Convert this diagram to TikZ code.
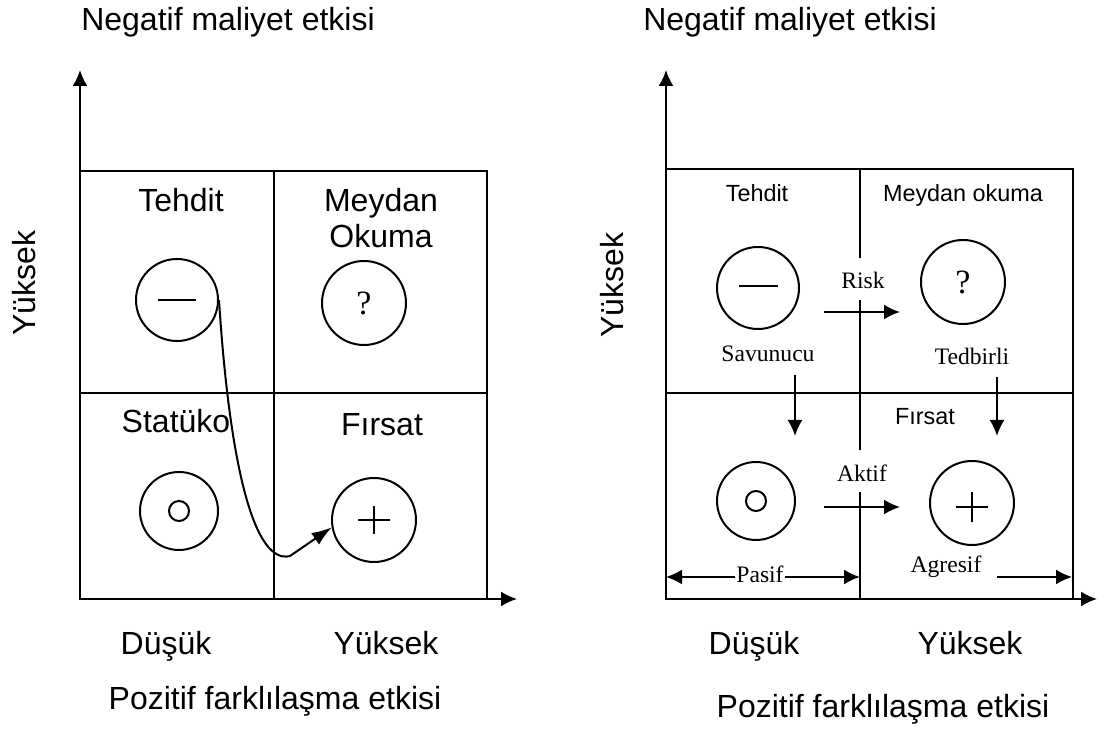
\documentclass[tikz,border=0pt]{standalone}
\usepackage{fontspec}
\setmainfont{Liberation Serif}
\setsansfont{Liberation Sans}
\usetikzlibrary{arrows.meta}
\tikzset{>={Latex[length=8pt,width=7.5pt]}}
\tikzset{
  big/.style={font=\sffamily\fontsize{16}{18}\selectfont},
  small/.style={font=\sffamily\fontsize{11.7}{14}\selectfont},
  lbl/.style={font=\fontsize{11.8}{14}\selectfont},
  ring/.style={draw, circle, minimum size=41pt, inner sep=0pt},
  qmark/.style={font=\fontsize{17}{19}\selectfont},
}

\begin{document}
\begin{tikzpicture}[x=0.5pt, y=-0.5pt, line width=1pt]
\useasboundingbox (0,0) rectangle (1105,731);

% ---- left matrix ----
\coordinate (oL) at (80,599);
\coordinate (yL) at (80,70);
\coordinate (xL) at (517,599);
\draw[->] (oL) -- (yL);
\draw[->] (oL) -- (xL);
\draw (80,171) rectangle (487,599);
\draw (274,171) -- (274,599);
\draw (80,393) -- (487,393);

\node[big, anchor=base] (titleL) at (228,31) {Negatif maliyet etkisi};
\node[big, anchor=base, rotate=90] (highL) at (35,283) {Yüksek};
\node[big, anchor=base] (lowxL) at (166,655) {Düşük};
\node[big, anchor=base] (highxL) at (386,655) {Yüksek};
\node[big, anchor=base] (xtitleL) at (275,710) {Pozitif farklılaşma etkisi};

\node[big, anchor=base] (tehL) at (181,212) {Tehdit};
\node[big, anchor=base] (meyL) at (381,212) {Meydan};
\node[big, anchor=base] (okuL) at (381,248) {Okuma};
\node[big, anchor=base] (staL) at (176,433) {Statüko};
\node[big, anchor=base] (firL) at (382,436) {Fırsat};

\node[ring] (minL) at (177,300) {};
\draw (minL) ++(-19,0) -- ++(38,0);
\node[ring, minimum size=42pt, qmark] (qL) at (364,303) {?};
\node[ring, minimum size=39pt] (zeroL) at (179,511) {};
\draw (zeroL) circle[radius=10];
\node[ring, minimum size=42pt] (plusL) at (374,520) {};
\draw (plusL) ++(-16,0) -- ++(32,0) (plusL) ++(0,-14) -- ++(0,28);

% curved move from threat to opportunity
\draw[-{Latex[length=10pt,width=7pt]}] (minL.east) .. controls (230,470) and (255,565) .. (290,556) -- (plusL.190);

% ---- right matrix ----
\coordinate (oR) at (666,599);
\coordinate (yR) at (666,70);
\coordinate (xR) at (1097,599);
\draw[->] (oR) -- (yR);
\draw[->] (oR) -- (xR);
\draw (666,169) rectangle (1073,599);
\draw (666,393) -- (1073,393);
\draw (860,169) -- (860,258) (860,300) -- (860,450) (860,492) -- (860,599);

\node[big, anchor=base] (titleR) at (790,31) {Negatif maliyet etkisi};
\node[big, anchor=base, rotate=90] (highR) at (623,285) {Yüksek};
\node[big, anchor=base] (lowxR) at (754,655) {Düşük};
\node[big, anchor=base] (highxR) at (970,655) {Yüksek};
\node[big, anchor=base] (xtitleR) at (883,718) {Pozitif farklılaşma etkisi};

\node[small, anchor=base] (tehR) at (757,202) {Tehdit};
\node[small, anchor=base] (meyR) at (963,202) {Meydan okuma};
\node[small, anchor=base] (firR) at (925,425) {Fırsat};

\node[ring] (minR) at (758,288) {};
\draw (minR) ++(-19,-2) -- ++(39,0);
\node[ring, minimum size=42pt, qmark] (qR) at (963,282) {?};
\node[ring, minimum size=39pt] (zeroR) at (756,501) {};
\draw (zeroR) circle[radius=10];
\node[ring, minimum size=42pt] (plusR) at (972,503) {};
\draw (plusR) ++(-16,4) -- ++(32,0) (plusR) ++(0,-11) -- ++(0,30);

\node[lbl, anchor=base] (riskR) at (863,289) {Risk};
\node[lbl, anchor=base] (savR) at (768,362) {Savunucu};
\node[lbl, anchor=base] (tedR) at (972,365) {Tedbirli};
\node[lbl, anchor=base] (aktR) at (862,482) {Aktif};
\node[lbl, anchor=base] (agrR) at (946,573) {Agresif};
\node[lbl, anchor=base, inner xsep=0pt] (pasR) at (760,583) {Pasif};

% strategy moves
\coordinate (riskA) at (824,312);
\coordinate (riskB) at (900,312);
\coordinate (aktA) at (824,507);
\coordinate (aktB) at (900,507);
\coordinate (savA) at (795,375);
\coordinate (savB) at (795,436);
\coordinate (tedA) at (997,377);
\coordinate (tedB) at (997,436);
\coordinate (pasA) at (666,577);
\coordinate (pasB) at (860,577);
\coordinate (agrA) at (997,577);
\coordinate (agrB) at (1072,577);
\draw[->] (riskA) -- (riskB);
\draw[->] (aktA) -- (aktB);
\draw[->] (savA) -- (savB);
\draw[->] (tedA) -- (tedB);
\draw[->] (pasR.west |- pasA) -- (pasA);
\draw[->] (pasR.east |- pasB) -- (pasB);
\draw[->] (agrA) -- (agrB);
\end{tikzpicture}
\end{document}
